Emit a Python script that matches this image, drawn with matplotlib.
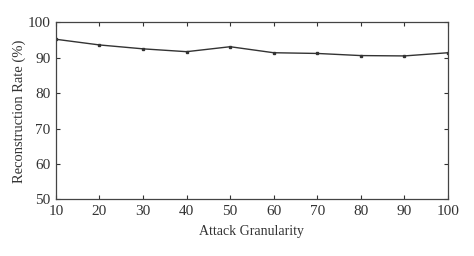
import matplotlib
matplotlib.use("Agg")
from matplotlib import pyplot as plt

granularity = [10, 20, 30, 40, 50, 60, 70, 80, 90, 100]
rate = [95.2, 93.6, 92.5, 91.7, 93.1, 91.4, 91.2, 90.6, 90.5, 91.4]
yticks = [50, 60, 70, 80, 90, 100]

plt.rcParams['font.family'] = ['Liberation Serif', 'DejaVu Serif']

fig = plt.figure(figsize=(4.74, 2.56), dpi=100)
ax = fig.add_axes([0.118, 0.221, 0.827, 0.692])
ax.plot(granularity, rate, color="#333333", linewidth=1.0, marker="s", markersize=1.8)
ax.set_xlim(10, 100)
ax.set_ylim(50, 100)
ax.set_xticks(granularity)
ax.set_yticks(yticks)
ax.tick_params(direction="in", top=True, right=True, length=3, width=0.8,
               labelsize=11, colors="#333333", pad=4)
for s in ax.spines.values():
    s.set_color("#444444")
    s.set_linewidth(0.9)
ax.set_xlabel("Attack Granularity", fontsize=10, color="#333333", labelpad=5)
ax.set_ylabel("Reconstruction Rate (%)", fontsize=10.5, color="#333333", labelpad=1)

fig.savefig("out.png", dpi=100)
